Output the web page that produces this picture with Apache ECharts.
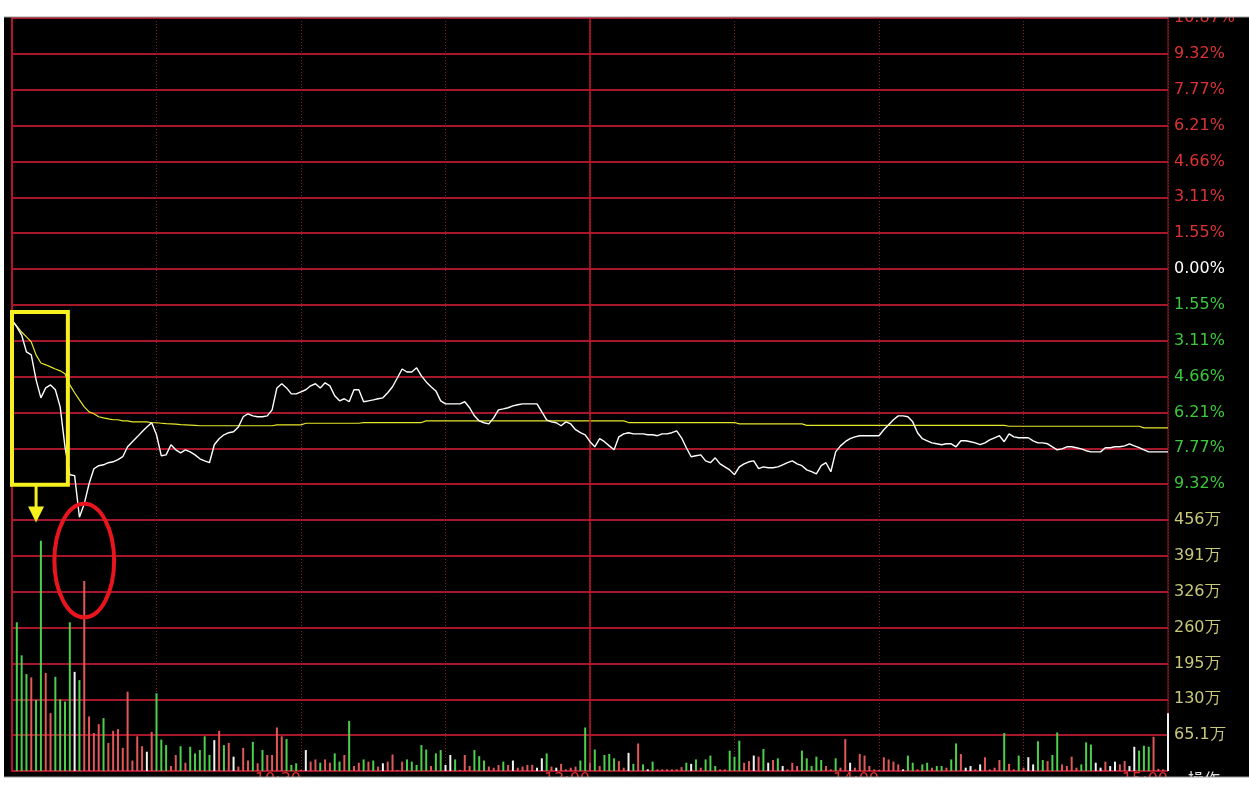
<!DOCTYPE html>
<html><head><meta charset="utf-8">
<script src="https://cdn.jsdelivr.net/npm/echarts@6/dist/echarts.min.js"></script>
<style>html,body{margin:0;padding:0;background:#fff;}#c{width:1249px;height:797px;}</style>
</head><body><div id="c"></div>
<script>
// price change (%) per minute, 9:30 .. 15:00 (241 points)
const priceChange = [
-2.21,-2.51,-2.86,-3.59,-3.72,-4.80,-5.58,-5.15,-5.02,-5.23,
-5.97,-7.70,-8.91,-8.95,-10.75,-10.17,-9.30,-8.65,-8.52,-8.48,
-8.39,-8.35,-8.26,-8.13,-7.70,-7.48,-7.27,-7.05,-6.84,-6.66,
-7.18,-8.09,-8.05,-7.61,-7.83,-7.96,-7.83,-7.92,-8.05,-8.22,
-8.31,-8.39,-7.61,-7.35,-7.18,-7.09,-7.05,-6.84,-6.40,-6.27,
-6.36,-6.40,-6.40,-6.36,-6.10,-5.15,-4.97,-5.15,-5.41,-5.41,
-5.32,-5.23,-5.06,-4.97,-5.15,-4.93,-5.06,-5.49,-5.71,-5.62,
-5.75,-5.23,-5.23,-5.75,-5.71,-5.67,-5.62,-5.58,-5.36,-5.10,
-4.72,-4.33,-4.46,-4.46,-4.28,-4.63,-4.89,-5.10,-5.28,-5.71,
-5.84,-5.84,-5.84,-5.84,-5.75,-6.01,-6.36,-6.58,-6.66,-6.71,
-6.45,-6.10,-6.06,-6.01,-5.93,-5.88,-5.84,-5.84,-5.84,-5.84,
-6.19,-6.53,-6.62,-6.66,-6.79,-6.62,-6.71,-6.96,-7.09,-7.18,
-7.48,-7.70,-7.35,-7.48,-7.66,-7.83,-7.27,-7.14,-7.09,-7.14,
-7.14,-7.14,-7.18,-7.18,-7.22,-7.14,-7.14,-7.09,-7.01,-7.31,
-7.74,-8.13,-8.09,-8.05,-8.31,-8.39,-8.18,-8.44,-8.57,-8.70,
-8.91,-8.57,-8.44,-8.35,-8.31,-8.65,-8.57,-8.61,-8.61,-8.57,
-8.48,-8.39,-8.31,-8.44,-8.52,-8.70,-8.78,-8.87,-8.52,-8.39,
-8.78,-7.92,-7.66,-7.48,-7.35,-7.27,-7.22,-7.22,-7.22,-7.22,
-7.22,-6.96,-6.75,-6.53,-6.36,-6.36,-6.40,-6.62,-7.09,-7.35,
-7.44,-7.53,-7.57,-7.61,-7.57,-7.57,-7.70,-7.44,-7.44,-7.48,
-7.53,-7.61,-7.53,-7.40,-7.31,-7.22,-7.48,-7.14,-7.27,-7.31,
-7.31,-7.31,-7.44,-7.53,-7.53,-7.57,-7.70,-7.83,-7.79,-7.70,
-7.70,-7.74,-7.79,-7.87,-7.92,-7.92,-7.92,-7.74,-7.74,-7.70,
-7.70,-7.66,-7.57,-7.66,-7.74,-7.83,-7.92,-7.92,-7.92,-7.92,
-7.92
];
// average price change (%) per minute
const avgChange = [
-2.21,-2.47,-2.73,-2.94,-3.16,-3.72,-4.07,-4.15,-4.24,-4.33,
-4.41,-4.54,-5.02,-5.36,-5.67,-5.97,-6.19,-6.27,-6.40,-6.45,
-6.49,-6.53,-6.53,-6.58,-6.58,-6.62,-6.62,-6.62,-6.62,-6.66,
-6.66,-6.68,-6.70,-6.71,-6.72,-6.74,-6.75,-6.76,-6.77,-6.79,
-6.79,-6.79,-6.79,-6.79,-6.79,-6.79,-6.79,-6.79,-6.79,-6.79,
-6.79,-6.79,-6.79,-6.79,-6.79,-6.75,-6.75,-6.75,-6.75,-6.75,
-6.75,-6.68,-6.68,-6.68,-6.68,-6.68,-6.68,-6.68,-6.68,-6.68,
-6.68,-6.68,-6.68,-6.65,-6.65,-6.65,-6.65,-6.65,-6.65,-6.65,
-6.65,-6.65,-6.65,-6.65,-6.65,-6.65,-6.58,-6.58,-6.58,-6.58,
-6.58,-6.58,-6.58,-6.58,-6.58,-6.58,-6.58,-6.58,-6.58,-6.58,
-6.58,-6.58,-6.58,-6.58,-6.58,-6.58,-6.58,-6.58,-6.58,-6.58,
-6.58,-6.58,-6.58,-6.58,-6.58,-6.58,-6.58,-6.58,-6.58,-6.58,
-6.58,-6.58,-6.58,-6.58,-6.58,-6.58,-6.58,-6.58,-6.65,-6.65,
-6.65,-6.65,-6.65,-6.65,-6.65,-6.65,-6.65,-6.65,-6.65,-6.65,
-6.65,-6.65,-6.65,-6.65,-6.65,-6.65,-6.65,-6.65,-6.65,-6.65,
-6.65,-6.71,-6.71,-6.71,-6.71,-6.71,-6.71,-6.71,-6.71,-6.71,
-6.71,-6.71,-6.71,-6.71,-6.71,-6.77,-6.77,-6.77,-6.77,-6.77,
-6.77,-6.77,-6.77,-6.77,-6.77,-6.77,-6.77,-6.77,-6.77,-6.77,
-6.77,-6.77,-6.77,-6.77,-6.77,-6.77,-6.77,-6.77,-6.77,-6.77,
-6.77,-6.77,-6.77,-6.77,-6.77,-6.77,-6.77,-6.77,-6.77,-6.77,
-6.77,-6.77,-6.77,-6.77,-6.77,-6.77,-6.77,-6.81,-6.81,-6.81,
-6.81,-6.81,-6.81,-6.81,-6.81,-6.81,-6.81,-6.81,-6.81,-6.81,
-6.81,-6.81,-6.81,-6.81,-6.81,-6.81,-6.81,-6.81,-6.81,-6.81,
-6.81,-6.81,-6.81,-6.81,-6.81,-6.88,-6.88,-6.88,-6.88,-6.88,
-6.88
];
// volume (万) per minute
const volume = [
0,270,210,176,170,129,418,178,105,171,
130,126,270,180,165,345,99,69,85,96,
51,73,76,42,144,19,63,45,35,71,
141,57,47,9,29,45,15,44,32,38,
63,29,56,73,47,51,26,8,42,19,
53,14,38,29,29,79,63,58,11,14,
2,38,17,21,15,21,15,32,17,29,
91,9,15,21,17,19,8,14,17,30,
2,17,21,17,11,47,39,9,32,38,
11,29,21,2,29,9,38,27,19,8,
6,11,17,11,19,6,8,11,11,6,
23,32,8,6,13,3,6,8,19,79,
15,39,9,29,31,23,18,6,33,13,
50,12,3,17,3,3,3,3,3,7,
15,13,21,6,21,28,9,3,3,37,
26,55,15,18,28,26,40,15,20,23,
9,3,15,9,37,23,9,26,20,9,
3,23,6,58,15,6,31,28,9,3,
2,25,21,17,12,3,28,15,3,12,
15,6,9,9,6,21,50,31,6,9,
3,12,25,3,6,20,69,13,3,28,
6,25,12,54,20,18,29,70,12,9,
26,6,12,52,48,15,6,17,9,17,
12,18,9,44,37,46,44,62,4,3,
105
];
// tick direction per minute: g = down (green), r = up (red), w = flat (white)
const volumeDir = [
'w','g','g','g','r','g','g','r','r','g',
'g','g','g','w','g','r','r','r','r','g',
'r','r','r','r','r','r','r','r','w','r',
'g','g','g','r','r','g','r','g','g','g',
'g','g','w','r','g','r','w','r','r','r',
'g','r','g','r','r','r','r','g','g','g',
'r','w','r','r','g','r','r','g','g','r',
'g','r','r','g','r','g','r','w','r','r',
'r','r','g','g','g','g','g','r','g','g',
'w','w','g','r','r','r','g','g','g','r',
'r','r','g','r','w','r','r','r','r','w',
'w','g','r','w','r','r','r','r','g','g',
'w','g','r','g','g','g','r','r','w','g',
'r','g','w','g','r','r','r','r','r','r',
'g','w','g','r','g','g','g','r','r','g',
'g','g','r','r','w','r','g','w','r','g',
'w','r','r','r','g','g','g','g','g','r',
'r','g','r','r','w','r','r','r','r','r',
'r','r','r','r','r','w','g','g','r','g',
'g','r','g','g','r','g','g','r','w','w',
'r','w','r','r','r','r','g','r','r','g',
'r','w','w','g','g','r','g','g','r','r',
'r','r','g','g','g','w','w','r','w','w',
'r','r','w','w','g','g','g','r','r','r',
'w'
];
const priceTickLabels = ['10.87%','9.32%','7.77%','6.21%','4.66%','3.11%','1.55%','0.00%','1.55%','3.11%','4.66%','6.21%','7.77%','9.32%','10.87%'];
const volumeTickLabels = ['','65.1万','130万','195万','260万','326万','391万','456万'];
const timeTickValues = [60,120,180,240];
const timeTickLabels = ['10:30','13:00','14:00','15:00'];

const PRICE_MIN = -10.871, PRICE_STEP = 1.553;
const VOL_STEP = 65.1;
const dirColor = {g:'#4ccf4c', r:'#e05858', w:'#f2f2f2'};
const gridRed = '#a8162c';
const FONT = 'DejaVu Sans';

const chart = echarts.init(document.getElementById('c'), null, {renderer:'canvas'});
const midLine = {
  silent:true, symbol:['none','none'], label:{show:false},
  lineStyle:{color:'#c8142a', type:'solid', width:1.5},
  data:[{xAxis:120}]
};
chart.setOption({
  backgroundColor:'#000',
  animation:false,
  grid:[
    {left:12, width:1156, top:18, height:502, show:true, borderColor:gridRed, borderWidth:1, backgroundColor:'transparent'},
    {left:12, width:1156, top:520, height:251, show:true, borderColor:gridRed, borderWidth:1, backgroundColor:'transparent'}
  ],
  xAxis:[
    {gridIndex:0, type:'value', min:0, max:240, interval:30,
     axisLine:{show:false}, axisTick:{show:false}, axisLabel:{show:false},
     splitLine:{show:true, lineStyle:{color:'#8c1a2c', width:1, type:[1,2]}}},
    {gridIndex:1, type:'value', min:0, max:240, interval:30,
     axisLine:{show:false}, axisTick:{show:false},
     axisLabel:{show:true, margin:1, align:'right', verticalAlign:'top', color:'#dc3232', fontSize:16, fontFamily:FONT,
       formatter:function(v){const k=timeTickValues.indexOf(Math.round(v)); return k>=0?timeTickLabels[k]:'';}},
     splitLine:{show:true, lineStyle:{color:'#8c1a2c', width:1, type:[1,2]}}}
  ],
  yAxis:[
    {gridIndex:0, type:'value', position:'right', min:PRICE_MIN, max:-PRICE_MIN, interval:PRICE_STEP,
     axisLine:{show:true, lineStyle:{color:'#b4142a', width:2}}, axisTick:{show:false},
     splitLine:{show:true, lineStyle:{color:gridRed, width:2}},
     axisLabel:{show:true, showMinLabel:false, margin:6, fontSize:16, fontFamily:FONT,
       formatter:function(v){return priceTickLabels[Math.round((v-PRICE_MIN)/PRICE_STEP)];},
       color:function(v){const k=Math.round((v-PRICE_MIN)/PRICE_STEP); return k<7?'#3cc83c':(k===7?'#ffffff':'#dc3232');}}},
    {gridIndex:1, type:'value', position:'right', min:0, max:VOL_STEP*7, interval:VOL_STEP,
     axisLine:{show:true, lineStyle:{color:'#b4142a', width:2}}, axisTick:{show:false},
     splitLine:{show:true, lineStyle:{color:gridRed, width:2}},
     axisLabel:{show:true, showMinLabel:false, margin:6, fontSize:16, fontFamily:FONT, color:'#c8c87a',
       formatter:function(v){return volumeTickLabels[Math.round(v/VOL_STEP)];}}}
  ],
  series:[
    {type:'bar', xAxisIndex:1, yAxisIndex:1, barWidth:2, silent:true,
     data:volume.map((v,i)=>({value:[i,v], itemStyle:{color:dirColor[volumeDir[i]]}})),
     markLine:midLine},
    {type:'line', xAxisIndex:0, yAxisIndex:0, showSymbol:false, silent:true, z:4,
     data:avgChange.map((v,i)=>[i,v]), lineStyle:{color:'#e6e62a', width:1.2}},
    {type:'line', xAxisIndex:0, yAxisIndex:0, showSymbol:false, silent:true, z:5,
     data:priceChange.map((v,i)=>[i,v]), lineStyle:{color:'#ffffff', width:1.4},
     markLine:midLine}
  ]
});

// annotation anchors in data units
const boxMinutes = [0, 11.6], boxPct = [-1.86, -9.34];
const arrowMinute = 5, arrowToVol = 451;
const ringCenter = [15, 382], ringRadiusMin = 6.2, ringRadiusVol = 103;

const p0 = (x,y)=>chart.convertToPixel({gridIndex:0}, [x,y]);
const p1 = (x,y)=>chart.convertToPixel({gridIndex:1}, [x,y]);
const bA = p0(boxMinutes[0], boxPct[0]), bB = p0(boxMinutes[1], boxPct[1]);
const aTop = p0(arrowMinute, boxPct[1]), aTip = p1(arrowMinute, arrowToVol);
const rc = p1(ringCenter[0], ringCenter[1]);
const rEdge = p1(ringCenter[0]+ringRadiusMin, ringCenter[1]+ringRadiusVol);
const yel = '#f5f01e';
chart.setOption({graphic:[
  {type:'rect', z:50, shape:{x:bA[0], y:bA[1], width:bB[0]-bA[0], height:bB[1]-bA[1]}, style:{fill:'none', stroke:yel, lineWidth:4}},
  {type:'line', z:50, shape:{x1:aTop[0], y1:aTop[1], x2:aTip[0], y2:aTip[1]-14}, style:{stroke:yel, lineWidth:3}},
  {type:'polygon', z:50, shape:{points:[[aTip[0]-8, aTip[1]-16],[aTip[0]+8, aTip[1]-16],[aTip[0], aTip[1]]]}, style:{fill:yel}},
  {type:'ellipse', z:50, shape:{cx:rc[0], cy:rc[1], rx:rEdge[0]-rc[0], ry:rc[1]-rEdge[1]}, style:{fill:'none', stroke:'#e8141e', lineWidth:4}},
  {type:'text', z:40, style:{x:1188, y:771, text:'操作', fill:'#e0e0e0', font:'16px "Noto Sans CJK SC"'}},
  {type:'rect', z:100, shape:{x:0, y:0, width:1249, height:17}, style:{fill:'#ffffff'}},
  {type:'rect', z:100, shape:{x:0, y:777, width:1249, height:20}, style:{fill:'#ffffff'}},
  {type:'rect', z:100, shape:{x:0, y:0, width:4, height:797}, style:{fill:'#ffffff'}},
  {type:'line', z:101, shape:{x1:4, y1:17, x2:1249, y2:17}, style:{stroke:'#9a9a9a', lineWidth:1}},
  {type:'line', z:101, shape:{x1:4, y1:777, x2:1249, y2:777}, style:{stroke:'#9a9a9a', lineWidth:1}}
]});
</script>
</body></html>
